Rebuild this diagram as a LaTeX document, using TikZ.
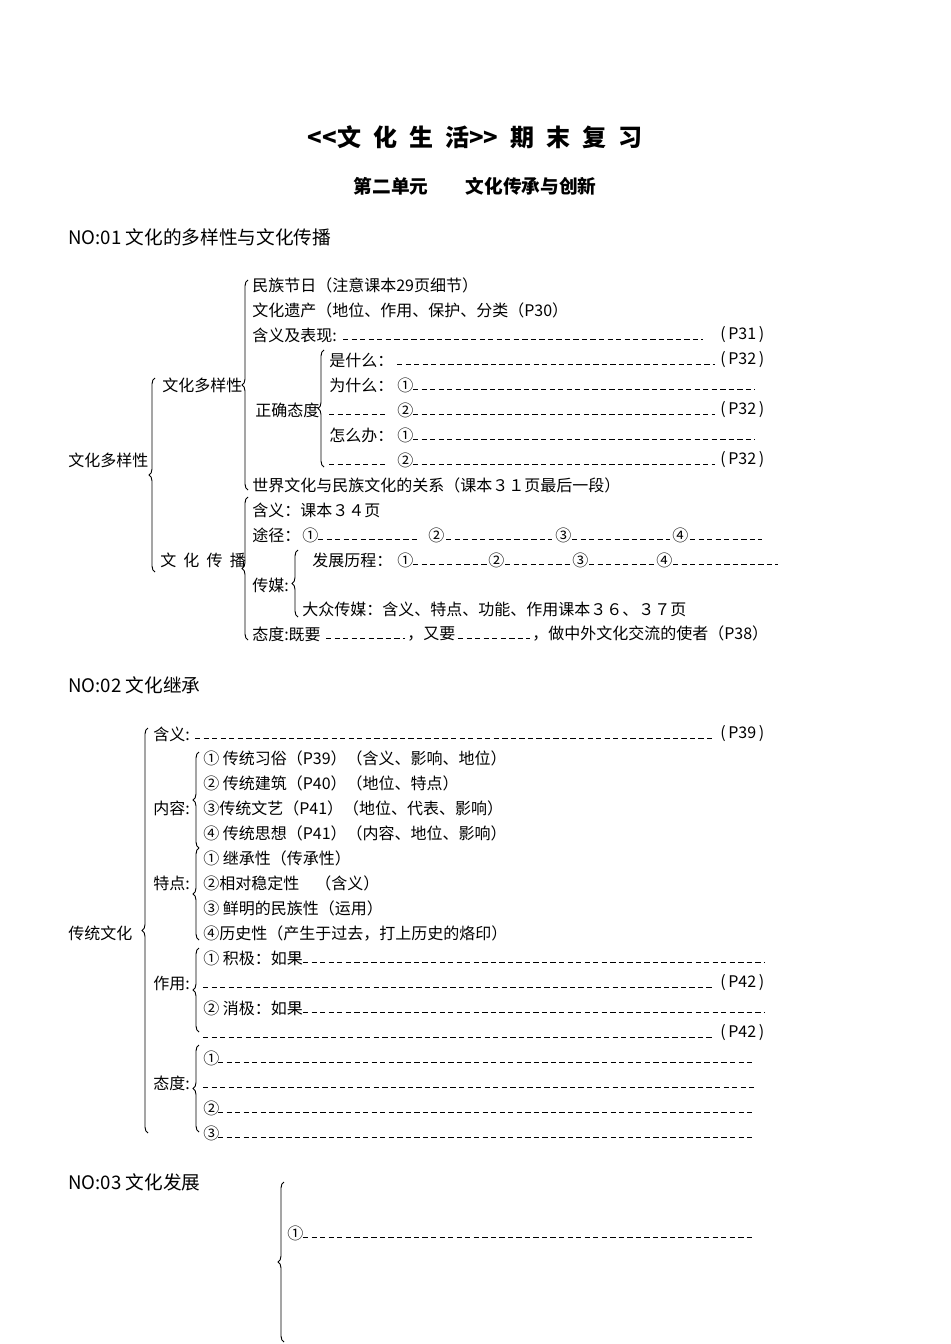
\documentclass[tikz,border=0pt]{standalone}
\usepackage{fontspec}
\setmainfont{Noto Sans CJK SC}
\usetikzlibrary{decorations.pathreplacing}
\newcommand\dline[3]{\draw[dl] (#1,#3+4) -- (#2,#3+4);}
\begin{document}
\begin{tikzpicture}[x=0.75pt,y=-0.75pt]
\tikzset{
 txt/.style={anchor=west, inner sep=0pt, font=\fontsize{12}{14}\selectfont},
 hdr/.style={anchor=west, inner sep=0pt, font=\fontsize{14}{16}\selectfont},
 dl/.style={line width=0.7pt, dash pattern=on 4pt off 2.4pt},
 brc/.style={decorate, decoration={brace, amplitude=4.5pt}, line width=0.7pt}
}
\useasboundingbox (0,0) rectangle (950,1344);
% titles
\node[inner sep=0pt, font=\fontsize{18}{20}\selectfont\bfseries] (title) at (475,137) {<{}<文\hspace{0.5em}化\hspace{0.5em}生\hspace{0.5em}活>{}>\hspace{0.5em}期\hspace{0.5em}末\hspace{0.5em}复\hspace{0.5em}习};
\node[inner sep=0pt, font=\fontsize{14}{16}\selectfont\bfseries] (subtitle) at (475,186) {第二单元\hspace{2em}文化传承与创新};
% ===== Section 1 =====
\node[hdr] (h1) at (68,237) {NO:01 文化的多样性与文化传播};
\node[txt] (s1root) at (68,460) {文化多样性};
\coordinate (r1b) at (155,572); \coordinate (r1t) at (155,378);
\draw[brc] (r1b) -- (r1t);
\node[txt] (s1a) at (162,385) {文化多样性};
\node[txt] (s1b) at (160,560) {文\hspace{0.45em}化\hspace{0.45em}传\hspace{0.45em}播};
\coordinate (bAb) at (248,490); \coordinate (bAt) at (248,280);
\draw[brc] (bAb) -- (bAt);
\node[txt] (a1) at (252,285) {民族节日（注意课本29页细节）};
\node[txt] (a2) at (252,310) {文化遗产（地位、作用、保护、分类（P30）};
\node[txt] (a3) at (252,335) {含义及表现:};
\dline{343}{703}{335}
\node[txt] (p31) at (720,335) {(\,P31\,)};
\node[txt] (a4) at (255,410) {正确态度};
\coordinate (bBb) at (324,467); \coordinate (bBt) at (324,350);
\draw[brc] (bBb) -- (bBt);
\node[txt] (a41) at (329,360) {是什么：};
\dline{397}{715}{360}
\node[txt] (p32a) at (720,360) {(\,P32\,)};
\node[txt] (a42) at (329,385) {为什么：};
\node[txt] (a42c) at (397,385) {①};
\dline{413}{755}{385}
\dline{329}{385}{410}
\node[txt] (a43c) at (397,410) {②};
\dline{413}{715}{410}
\node[txt] (p32b) at (720,410) {(\,P32\,)};
\node[txt] (a44) at (329,435) {怎么办：};
\node[txt] (a44c) at (397,435) {①};
\dline{413}{755}{435}
\dline{329}{385}{460}
\node[txt] (a45c) at (397,460) {②};
\dline{413}{715}{460}
\node[txt] (p32c) at (720,460) {(\,P32\,)};
\node[txt] (a5) at (252,485) {世界文化与民族文化的关系（课本３１页最后一段）};
\coordinate (bCb) at (248,640); \coordinate (bCt) at (248,497);
\draw[brc] (bCb) -- (bCt);
\node[txt] (b1) at (252,510) {含义：课本３４页};
\node[txt] (b2) at (252,535) {途径：};
\node[txt] (b2c1) at (302,535) {①};
\dline{318}{418}{535}
\node[txt] (b2c2) at (428,535) {②};
\dline{446}{552}{535}
\node[txt] (b2c3) at (555,535) {③};
\dline{572}{670}{535}
\node[txt] (b2c4) at (672,535) {④};
\dline{690}{762}{535}
\node[txt] (b3) at (252,585) {传媒:};
\coordinate (bDb) at (298,617); \coordinate (bDt) at (298,550);
\draw[brc] (bDb) -- (bDt);
\node[txt] (b4) at (312,560) {发展历程：};
\node[txt] (b4c1) at (397,560) {①};
\dline{413}{487}{560}
\node[txt] (b4c2) at (488,560) {②};
\dline{505}{570}{560}
\node[txt] (b4c3) at (572,560) {③};
\dline{589}{655}{560}
\node[txt] (b4c4) at (656,560) {④};
\dline{673}{778}{560}
\node[txt] (b5) at (302,609) {大众传媒：含义、特点、功能、作用课本３６、３７页};
\node[txt] (b6) at (252,634) {态度:既要};
\dline{326}{405}{634}
\node[txt] (b6b) at (407,634) {，又要};
\dline{458}{530}{634}
\node[txt] (b6c) at (532,634) {，做中外文化交流的使者（P38）};
% ===== Section 2 =====
\node[hdr] (h2) at (68,685) {NO:02 文化继承};
\node[txt] (s2root) at (68,933) {传统文化};
\coordinate (r2b) at (148,1133); \coordinate (r2t) at (148,728);
\draw[brc] (r2b) -- (r2t);
\node[txt] (c0) at (153,734) {含义:};
\dline{195}{713}{734}
\node[txt] (p39) at (720,734) {(\,P39\,)};
\node[txt] (c1) at (153,808) {内容:};
\coordinate (bEb) at (199,848); \coordinate (bEt) at (199,752);
\draw[brc] (bEb) -- (bEt);
\node[txt] (c11) at (203,758) {① 传统习俗（P39）（含义、影响、地位）};
\node[txt] (c12) at (203,783) {② 传统建筑（P40）（地位、特点）};
\node[txt] (c13) at (203,808) {③传统文艺（P41）（地位、代表、影响）};
\node[txt] (c14) at (203,833) {④ 传统思想（P41）（内容、地位、影响）};
\node[txt] (c2) at (153,883) {特点:};
\coordinate (bFb) at (199,940); \coordinate (bFt) at (199,848);
\draw[brc] (bFb) -- (bFt);
\node[txt] (c21) at (203,858) {① 继承性（传承性）};
\node[txt] (c22) at (203,883) {②相对稳定性\hspace{1em}（含义）};
\node[txt] (c23) at (203,908) {③ 鲜明的民族性（运用）};
\node[txt] (c24) at (203,933) {④历史性（产生于过去，打上历史的烙印）};
\node[txt] (c3) at (153,983) {作用:};
\coordinate (bGb) at (199,1032); \coordinate (bGt) at (199,948);
\draw[brc] (bGb) -- (bGt);
\node[txt] (c31) at (203,958) {① 积极：如果};
\dline{303}{765}{958}
\dline{203}{713}{983}
\node[txt] (p42a) at (720,983) {(\,P42\,)};
\node[txt] (c32) at (203,1008) {② 消极：如果};
\dline{303}{765}{1008}
\dline{203}{713}{1033}
\node[txt] (p42b) at (720,1033) {(\,P42\,)};
\node[txt] (c4) at (153,1083) {态度:};
\coordinate (bHb) at (199,1132); \coordinate (bHt) at (199,1045);
\draw[brc] (bHb) -- (bHt);
\node[txt] (c41) at (203,1058) {①};
\dline{218}{755}{1058}
\dline{203}{755}{1083}
\node[txt] (c42) at (203,1108) {②};
\dline{218}{755}{1108}
\node[txt] (c43) at (203,1133) {③};
\dline{218}{755}{1133}
% ===== Section 3 =====
\node[hdr] (h3) at (68,1182) {NO:03 文化发展};
\coordinate (bIb) at (284,1342); \coordinate (bIt) at (284,1182);
\draw[brc] (bIb) -- (bIt);
\node[txt] (d1) at (287,1233) {①};
\dline{303}{755}{1233}
\end{tikzpicture}
\end{document}
